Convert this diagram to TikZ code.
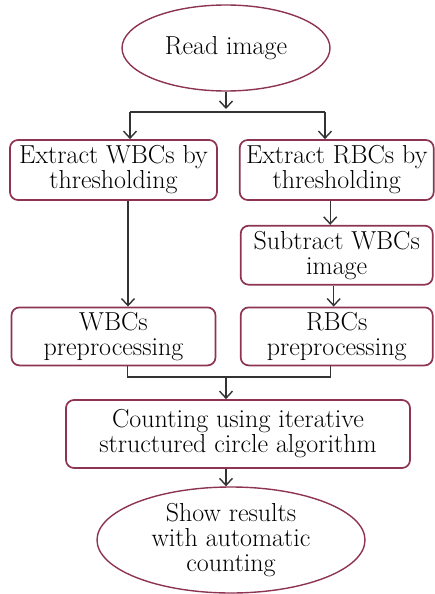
\documentclass[tikz,border=0pt]{standalone}
\usepackage{tikz}
\usetikzlibrary{arrows.meta,shapes.geometric,positioning,calc}
\definecolor{brd}{RGB}{140,52,82}

\begin{document}
\begin{tikzpicture}[font=\fontsize{26}{25}\selectfont, box/.style={draw=brd,line width=1.7pt,rounded corners=8pt,align=center,inner sep=2pt,text=black},
  term/.style={ellipse,draw=brd,line width=1.4pt,align=center,inner sep=0pt,text=black},
  ar/.style={-{Straight Barb[length=7pt,width=13pt]},black!80,line width=1.4pt}, ln/.style={black!80,line width=1.4pt}]
 \useasboundingbox (0,0) rectangle (434pt,-594pt);
 \node[term, minimum width=208pt, minimum height=86pt] (read) at (226pt,-48pt) {Read image};
 \node[box, minimum width=207pt, minimum height=60pt] (wx) at (113.5pt,-170pt) {Extract WBCs by\\thresholding};
 \node[box, minimum width=194pt, minimum height=60pt, right=21pt of wx] (rx) {Extract RBCs by\\thresholding};
 \node[box, minimum width=192pt, minimum height=59pt, below=24pt of rx] (sub) {Subtract WBCs\\image};
 \node[box, minimum width=192pt, minimum height=58pt, below=21pt of sub] (rp) {RBCs\\preprocessing};
 \node[box, minimum width=204pt, minimum height=58pt] (wp) at (wx |- rp) {WBCs\\preprocessing};
 \node[box, minimum width=344pt, minimum height=68pt] (cnt) at (238pt,-434pt) {Counting using iterative\\structured circle algorithm};
 \node[term, minimum width=268pt, minimum height=106pt] (res) at (231pt,-540pt) {Show results\\with automatic\\counting};
 % junctions
 \coordinate (jl) at (130pt,-112pt); \coordinate (jr) at (325pt,-112pt); \coordinate (jm) at (226pt,-377pt);
 \draw[ar, shorten >=3pt] (read.south -| jm) -- (jm |- jl);
 \draw[ln] (jl) -- (jr);
 \draw[ar] (jl) -- (jl |- wx.north); \draw[ar] (jr) -- (jr |- rx.north);
 \draw[ar] ([xshift=14.5pt]wx.south) -- ([xshift=14.5pt]wx.south |- wp.north);
 \draw[ar] ([xshift=-6.5pt]rx.south) -- ([xshift=-6.5pt]rx.south |- sub.north);
 \draw[ar] ([xshift=-3pt]sub.south) -- ([xshift=-3pt]sub.south |- rp.north);
 \draw[ln] ([xshift=14pt]wp.south) |- (jm) -| ([xshift=-6pt]rp.south);
 \draw[ar] (jm) -- (jm |- cnt.north);
 \draw[ar] (jm |- cnt.south) -- (jm |- res.north);
\end{tikzpicture}
\end{document}
